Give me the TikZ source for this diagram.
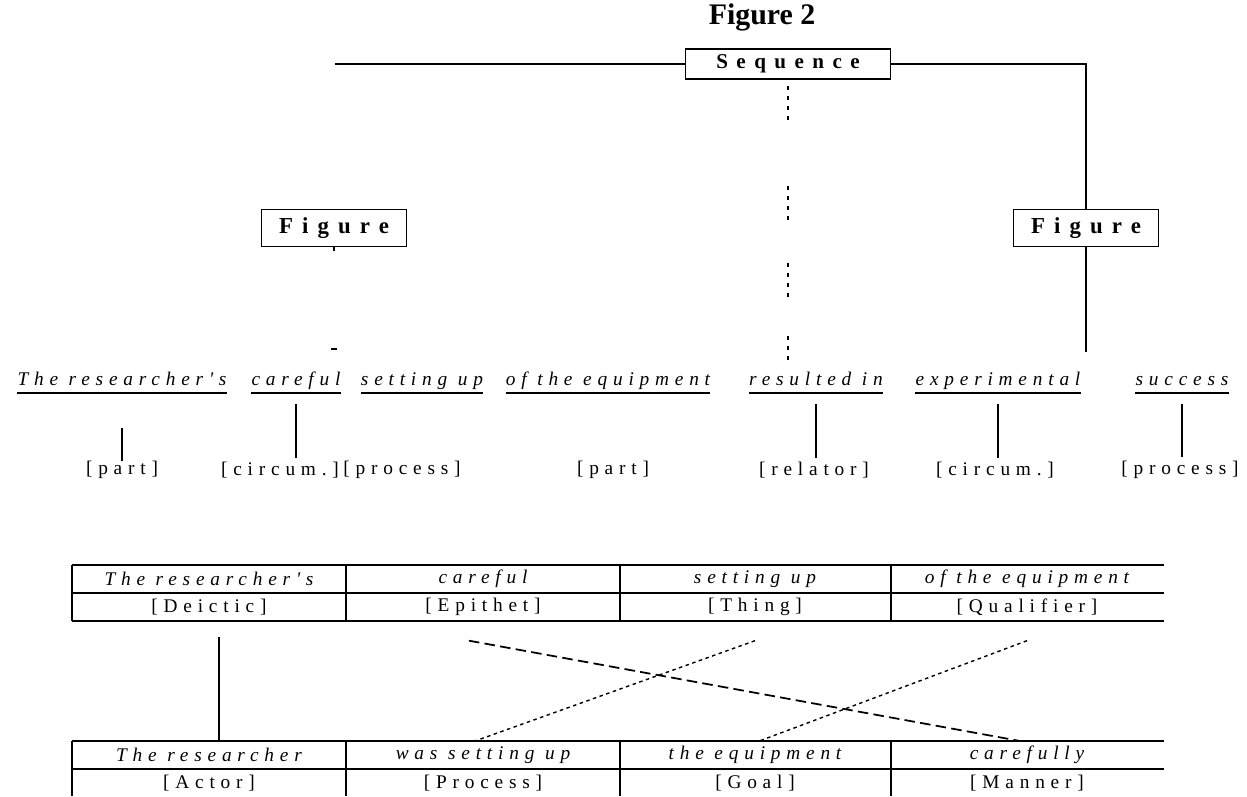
\documentclass[tikz,border=0pt]{standalone}
\usepackage{fontspec}
\setmainfont{Liberation Serif}
\newfontfamily\widefont[LetterSpace=30]{Liberation Serif}
\newfontfamily\boxfont[LetterSpace=40]{Liberation Serif}
\usepackage{tikz}
\usetikzlibrary{calc}

\begin{document}
\begin{tikzpicture}
[x=0.02cm,y=-0.02cm]
\tikzset{
	title/.style = {inner sep=0, font=\fontsize{17}{20}\selectfont\bfseries},
	seqbox/.style = {draw, line width=1.1pt, minimum width=4.1cm, minimum height=0.6cm, inner sep=0, font=\boxfont\fontsize{12}{14}\selectfont\bfseries},
	figbox/.style = {draw, line width=1.1pt, minimum width=2.9cm, minimum height=0.74cm, inner sep=0, font=\boxfont\fontsize{13}{15}\selectfont\bfseries},
	word/.style = {inner xsep=0, inner ysep=1.5pt, text height=8pt, text depth=2.5pt, font=\widefont\fontsize{11}{13}\selectfont\itshape},
	role/.style = {inner sep=0, font=\widefont\fontsize{11}{13}\selectfont},
	cell/.style = {inner sep=0, minimum height=0.56cm, font=\widefont\fontsize{11}{13}\selectfont},
	cellit/.style = {cell, font=\widefont\fontsize{11}{13}\selectfont\itshape},
	conn/.style = {line width=1.1pt},
	grid/.style = {line width=1.4pt},
	dotline/.style = {line width=1.4pt, dash pattern=on 2.3pt off 3.4pt on 2.3pt off 3.4pt on 2.3pt off 3.4pt on 2.3pt off 37.4pt on 2.3pt off 3.4pt on 2.3pt off 3.4pt on 2.3pt off 3.4pt on 2.3pt off 24.4pt on 2.3pt off 3.4pt on 2.3pt off 3.4pt on 2.3pt off 3.4pt on 2.3pt off 22.1pt},
	longdash/.style = {line width=1pt, dash pattern=on 6pt off 3pt},
	finedash/.style = {line width=0.8pt, dash pattern=on 2pt off 2pt}
}
\useasboundingbox (0,0) rectangle (1247,796);

% top of the tree
\node(title) [title] at (762,17) {Figure 2};
\node(seq) [seqbox] at (788,64) {Sequence};
\node(figL) [figbox] at (334,228) {Figure};
\node(figR) [figbox] at (1086,228) {Figure};

\coordinate (seqL) at (335,64);
\coordinate (figRfoot) at (1086,352);
\coordinate (relTop) at (788,360);
\draw [conn] (seq.west) -- (seqL);
\draw [conn] (seq.east) -| (figR.north);
\draw [conn] (figR.south) -- (figRfoot);
\draw [dotline, shorten <=3.4pt] (seq.south) -- (relTop);
\draw [conn] (figL.south) -- ++(0,4);
\draw [line width=1.5pt] (331,349) -- (337,349);

% the wording and its parts
\node(w1) [word] at (122,381) {The researcher's};
\node(w2) [word] at (296,381) {careful};
\node(w3) [word] at (422,381) {setting up};
\node(w4) [word] at (608,381) {of the equipment};
\node(w5) [word] at (816,381) {resulted in};
\node(w6) [word] at (998,381) {experimental};
\node(w7) [word] at (1182,381) {success};
\foreach \w in {w1,w2,w3,w4,w5,w6,w7}
	\draw [conn] (\w.south west) -- (\w.south east);

\node(l1) [role] at (122,470) {[part]};
\node(l2) [role] at (280,470) {[circum.]};
\node(l3) [role] at (402,470) {[process]};
\node(l4) [role] at (613,470) {[part]};
\node(l5) [role] at (814,470) {[relator]};
\node(l6) [role] at (995,470) {[circum.]};
\node(l7) [role] at (1180,470) {[process]};

\draw [conn] ([yshift=-20pt]w1.south) -- (w1.south |- l1.north);
\foreach \a/\b in {w2/l2,w5/l5,w6/l6,w7/l7}
	\draw [conn, shorten >=2pt] ([yshift=-6pt]\a.south) -- (\a.south |- \b.north);

% the two tables
\foreach \y in {565,593,621}
	\draw [grid] (72,\y) -- (1164,\y);
\foreach \x in {72,346,620,891}
	\draw [grid] (\x,565) -- (\x,621);
\foreach \y in {741,769}
	\draw [grid] (72,\y) -- (1164,\y);
\foreach \x in {72,346,620,891}
	\draw [grid] (\x,741) -- (\x,796);

\node(t1) [cellit] at (209,579) {The researcher's};
\node(t2) [cellit] at (483,579) {careful};
\node(t3) [cellit] at (755,579) {setting up};
\node(t4) [cellit] at (1027,579) {of the equipment};
\node(d1) [cell] at (209,607) {[Deictic]};
\node(d2) [cell] at (483,607) {[Epithet]};
\node(d3) [cell] at (755,607) {[Thing]};
\node(d4) [cell] at (1027,607) {[Qualifier]};

\node(b1) [cellit] at (209,755) {The researcher};
\node(b2) [cellit] at (483,755) {was setting up};
\node(b3) [cellit] at (755,755) {the equipment};
\node(b4) [cellit] at (1027,755) {carefully};
\node(r1) [cell] at (209,783) {[Actor]};
\node(r2) [cell] at (483,783) {[Process]};
\node(r3) [cell] at (755,783) {[Goal]};
\node(r4) [cell] at (1027,783) {[Manner]};

\draw [conn] ([xshift=5.7pt,yshift=-9pt]d1.south) -- ([xshift=5.7pt]b1.north);
\draw [longdash] ([xshift=-8pt,yshift=-11pt]d2.south) -- ([xshift=-5pt]b4.north);
\draw [finedash] ([yshift=-11pt]d3.south) -- ([xshift=-4pt]b2.north);
\draw [finedash] ([yshift=-11pt]d4.south) -- ([xshift=3pt]b3.north);
\end{tikzpicture}
\end{document}
